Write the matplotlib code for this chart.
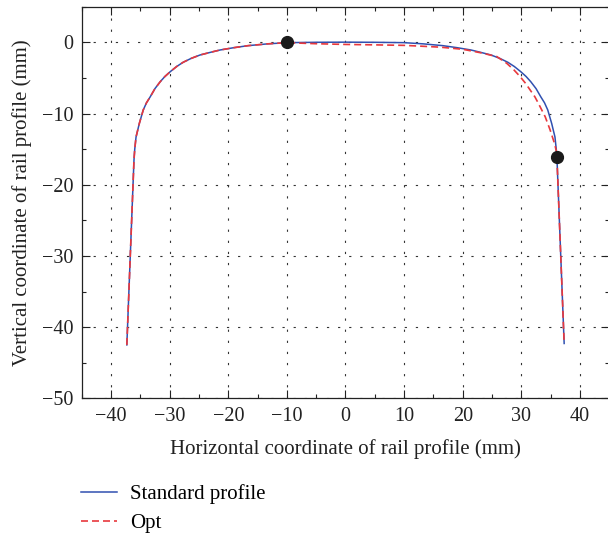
import matplotlib
matplotlib.use("Agg")
import matplotlib.pyplot as plt
from matplotlib.ticker import MultipleLocator

plt.rcParams['font.family'] = ['Liberation Serif', 'DejaVu Serif']

# Standard profile
std_x = [-37.3, -36.08, -35.95, -35.73, -35.17, -34.5, -33.95, -33.3, -32.5, -31.6,
         -30.8, -29.9, -28.8, -27.7, -26.3, -24.8, -23.0, -21.4, -19.0, -16.6,
         -13.3, -10.0, -5.0, 0.0, 5.0, 10.0, 13.3, 16.6, 19.0, 21.4,
         23.0, 24.8, 26.3, 27.7, 28.8, 29.9, 30.8, 31.6, 32.5, 33.3,
         33.95, 34.5, 35.17, 35.73, 35.95, 36.08, 37.3]
std_y = [-42.5, -16.5, -15.0, -13.3, -11.4, -9.5, -8.5, -7.64, -6.5, -5.53,
         -4.8, -4.13, -3.4, -2.81, -2.25, -1.78, -1.4, -1.08, -0.75, -0.47,
         -0.22, -0.05, 0.0, 0.02, 0.0, -0.05, -0.22, -0.47, -0.75, -1.08,
         -1.4, -1.78, -2.25, -2.81, -3.4, -4.13, -4.8, -5.53, -6.5, -7.64,
         -8.5, -9.5, -11.4, -13.3, -15.0, -16.5, -42.3]

# Optimized profile
opt_x = [-37.3, -36.08, -35.95, -35.73, -35.17, -34.5, -33.95, -33.3, -32.5, -31.6,
         -30.8, -29.9, -28.8, -27.7, -26.3, -24.8, -23.0, -21.4, -19.0, -16.6,
         -13.3, -10.0, -5.0, 0.0, 5.0, 10.0, 13.0, 16.1, 20.0, 23.0,
         25.8, 27.5, 28.7, 29.8, 30.7, 31.5, 32.3, 32.9, 34.06, 34.9,
         35.65, 36.06, 36.08, 37.3]
opt_y = [-42.5, -16.5, -15.0, -13.3, -11.4, -9.5, -8.5, -7.64, -6.5, -5.53,
         -4.8, -4.13, -3.4, -2.81, -2.25, -1.78, -1.4, -1.08, -0.75, -0.47,
         -0.22, -0.05, -0.2, -0.3, -0.36, -0.43, -0.55, -0.68, -0.98, -1.46,
         -2.0, -2.95, -3.85, -4.83, -5.75, -6.7, -7.65, -8.57, -10.45, -12.3,
         -14.2, -15.6, -16.5, -42.3]

# Marked points
pts_x = [-10.0, 36.06]
pts_y = [0.0, -16.07]

labels = ['Standard profile', 'Opt']

fig = plt.figure(figsize=(6.08, 5.35), dpi=100)
ax = fig.add_axes([81.7/608, 1 - 398.3/535, (609.3 - 81.7)/608, (398.3 - 6.7)/535])

l1, = ax.plot(std_x, std_y, color='#3050b0', lw=1.1, label=labels[0], zorder=3)
l2, = ax.plot(opt_x, opt_y, color='#e8383d', lw=1.2, dashes=(4.2, 2.4), label=labels[1], zorder=4)
ax.plot(pts_x, pts_y, 'o', color='#1a1a1a', ms=8.5, zorder=5)

ax.set_xlim(-45, 45)
ax.set_ylim(-50, 5)
ax.xaxis.set_major_locator(MultipleLocator(10))
ax.xaxis.set_minor_locator(MultipleLocator(5))
ax.yaxis.set_major_locator(MultipleLocator(10))
ax.yaxis.set_minor_locator(MultipleLocator(5))
ax.tick_params(which='both', direction='in', top=True, right=True, labelsize=14.5, width=0.8, colors='#222222')
ax.tick_params(which='major', length=6, pad=6)
ax.tick_params(which='minor', length=3)
ax.grid(True, which='major', color='#333333', lw=0.8, linestyle=(0, (2, 8)))
for s in ax.spines.values():
    s.set_linewidth(0.9)
    s.set_color('#222222')

ax.set_xlabel('Horizontal coordinate of rail profile (mm)', fontsize=15, labelpad=10, color='#222222')
ax.set_ylabel('Vertical coordinate of rail profile (mm)', fontsize=15, labelpad=7, color='#222222')

fig.legend(handles=[l1, l2], labels=labels, loc='upper left',
           bbox_to_anchor=(81/608, 1 - 484/535), frameon=False, fontsize=15,
           handlelength=1.75, handletextpad=0.6, labelspacing=0.45,
           borderaxespad=0.0, borderpad=0.0)

fig.savefig('out.png', dpi=100)
